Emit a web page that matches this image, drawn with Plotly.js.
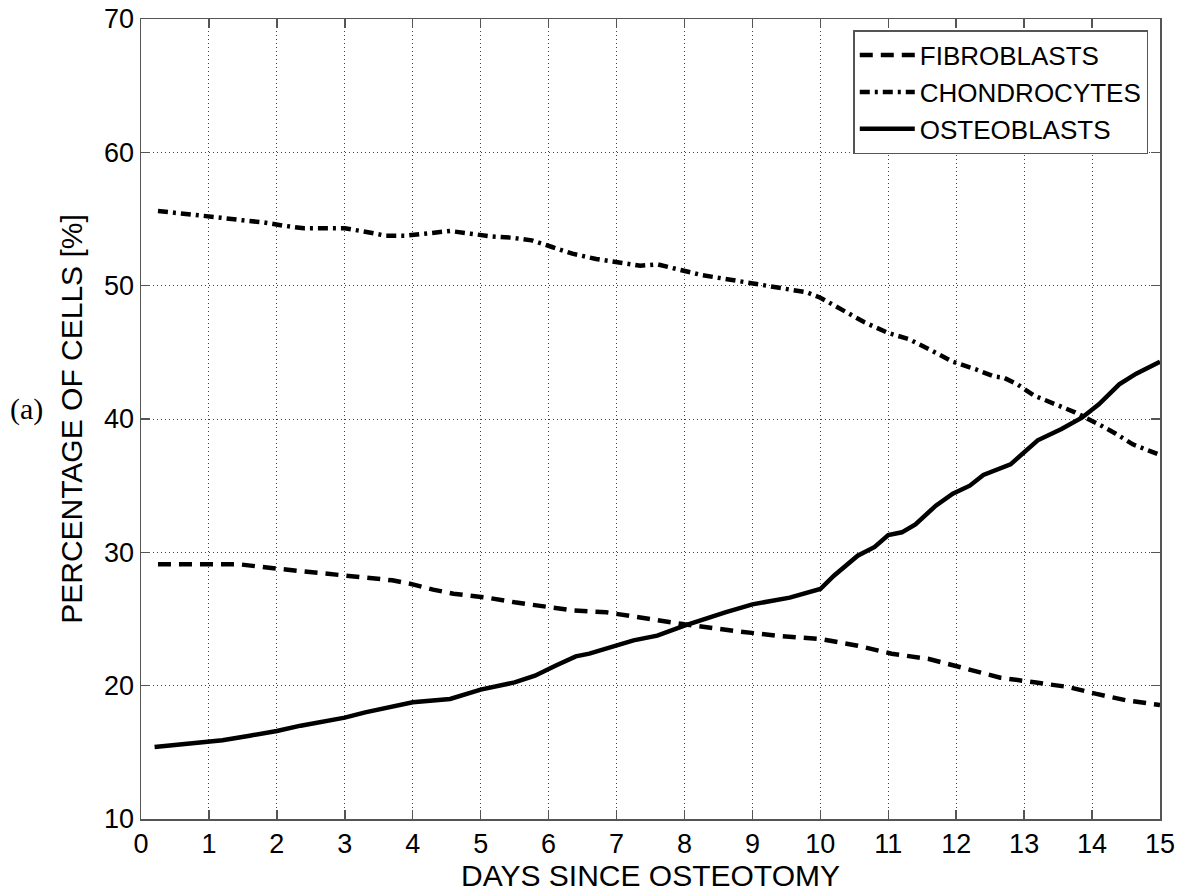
<!DOCTYPE html>
<html>
<head>
<meta charset="utf-8">
<script src="https://cdn.plot.ly/plotly-3.0.1.min.js"></script>
<style>
html,body{margin:0;padding:0;background:#fff;}
#chart{width:1186px;height:892px;}
</style>
</head>
<body>
<div id="chart"></div>
<script>
// Days since osteotomy and percentages
const fibroDays = [0.25, 1.0, 1.45, 1.95, 2.35, 2.55, 2.85, 3.2, 3.7, 4.0, 4.3, 4.6, 5.1, 5.5, 6.0, 6.35, 6.85, 7.35, 8.0, 8.75, 9.35, 10.0, 10.55, 11.05, 11.6, 12.05, 12.65, 13.15, 13.65, 14.05, 14.5, 15.0];
const fibroblasts = [29.1, 29.1, 29.1, 28.8, 28.6, 28.5, 28.3, 28.15, 27.9, 27.6, 27.2, 26.9, 26.6, 26.25, 25.9, 25.65, 25.5, 25.1, 24.6, 24.1, 23.75, 23.5, 23.0, 22.4, 22.0, 21.4, 20.6, 20.25, 19.9, 19.4, 18.9, 18.55];

const chondroDays = [0.25, 0.87, 1.17, 1.5, 1.8, 2.1, 2.4, 2.7, 3.0, 3.3, 3.6, 3.9, 4.25, 4.55, 4.85, 5.15, 5.45, 5.75, 6.05, 6.35, 6.7, 7.0, 7.35, 7.6, 7.95, 8.25, 8.55, 8.85, 9.15, 9.45, 9.8, 10.0, 10.35, 10.65, 11.0, 11.3, 11.65, 11.95, 12.3, 12.55, 12.7, 12.9, 13.15, 13.45, 13.75, 14.1, 14.35, 14.6, 15.0];
const chondrocytes = [55.6, 55.3, 55.1, 54.9, 54.75, 54.5, 54.3, 54.3, 54.3, 54.05, 53.75, 53.75, 53.95, 54.1, 53.9, 53.7, 53.6, 53.4, 52.9, 52.4, 52.0, 51.75, 51.5, 51.6, 51.2, 50.8, 50.55, 50.3, 50.0, 49.8, 49.5, 49.1, 48.1, 47.25, 46.45, 46.0, 45.1, 44.3, 43.7, 43.2, 43.1, 42.6, 41.75, 41.1, 40.5, 39.6, 38.9, 38.1, 37.3];

const osteoDays = [0.2, 0.97, 1.2, 1.6, 2.0, 2.35, 2.65, 3.0, 3.3, 3.6, 4.0, 4.55, 5.0, 5.5, 5.8, 6.1, 6.4, 6.6, 6.9, 7.25, 7.6, 8.0, 8.6, 9.0, 9.55, 10.0, 10.2, 10.55, 10.8, 11.0, 11.2, 11.4, 11.7, 11.95, 12.2, 12.4, 12.8, 13.0, 13.2, 13.55, 13.85, 14.1, 14.4, 14.65, 15.0];
const osteoblasts = [15.4, 15.75, 15.9, 16.25, 16.6, 17.0, 17.25, 17.6, 18.0, 18.35, 18.75, 19.0, 19.7, 20.25, 20.75, 21.5, 22.2, 22.4, 22.9, 23.4, 23.75, 24.5, 25.5, 26.1, 26.6, 27.25, 28.25, 29.75, 30.4, 31.3, 31.5, 32.1, 33.5, 34.4, 35.0, 35.8, 36.6, 37.5, 38.4, 39.25, 40.1, 41.1, 42.6, 43.4, 44.3];

const seriesNames = ["FIBROBLASTS", "CHONDROCYTES", "OSTEOBLASTS"];
const xTickVals = [0,1,2,3,4,5,6,7,8,9,10,11,12,13,14,15];
const yTickVals = [10,20,30,40,50,60,70];

const FONT = "Arial, 'Liberation Sans', Helvetica, sans-serif";

const traces = [
  {x: fibroDays, y: fibroblasts, name: seriesNames[0], mode: "lines",
   line: {color: "#000", width: 4.5, dash: "13px,8px"}},
  {x: chondroDays, y: chondrocytes, name: seriesNames[1], mode: "lines",
   line: {color: "#000", width: 4.5, dash: "10px,5px,3px,5px"}},
  {x: osteoDays, y: osteoblasts, name: seriesNames[2], mode: "lines",
   line: {color: "#000", width: 4.5}}
];

const axisCommon = {
  showline: true, linecolor: "#555", linewidth: 1.5, mirror: "ticks",
  ticks: "inside", ticklen: 9, tickwidth: 1.5, tickcolor: "#555",
  showgrid: true, gridcolor: "#444", gridwidth: 1, griddash: "1px,3px",
  zeroline: false, tickfont: {family: FONT, size: 27, color: "#000"}
};

const layout = {
  width: 1186, height: 892,
  margin: {l: 141, r: 26, t: 19, b: 73},
  paper_bgcolor: "#fff", plot_bgcolor: "#fff",
  showlegend: true,
  xaxis: Object.assign({}, axisCommon, {
    range: [0, 15], tickvals: xTickVals, ticklabelstandoff: 0,
    title: {text: "DAYS SINCE OSTEOTOMY", font: {family: FONT, size: 30, color: "#000"}, standoff: 2}
  }),
  yaxis: Object.assign({}, axisCommon, {
    range: [10, 70], tickvals: yTickVals,
    title: {text: "PERCENTAGE OF CELLS [%]", font: {family: FONT, size: 30, color: "#000"}, standoff: 12}
  }),
  legend: {
    x: 0.9885, xanchor: "right", y: 0.986, yanchor: "top",
    bgcolor: "#fff", bordercolor: "#555", borderwidth: 1.5,
    font: {family: FONT, size: 26, color: "#000"},
    itemwidth: 55, tracegroupgap: 0
  },
  annotations: [{
    text: "(a)", xref: "paper", yref: "paper", x: -0.131, y: 0.512,
    xanchor: "left", yanchor: "middle", showarrow: false,
    font: {family: "'Times New Roman', 'Liberation Serif', serif", size: 30, color: "#000"}
  }]
};

Plotly.newPlot("chart", traces, layout, {displayModeBar: false, staticPlot: true});
</script>
</body>
</html>
